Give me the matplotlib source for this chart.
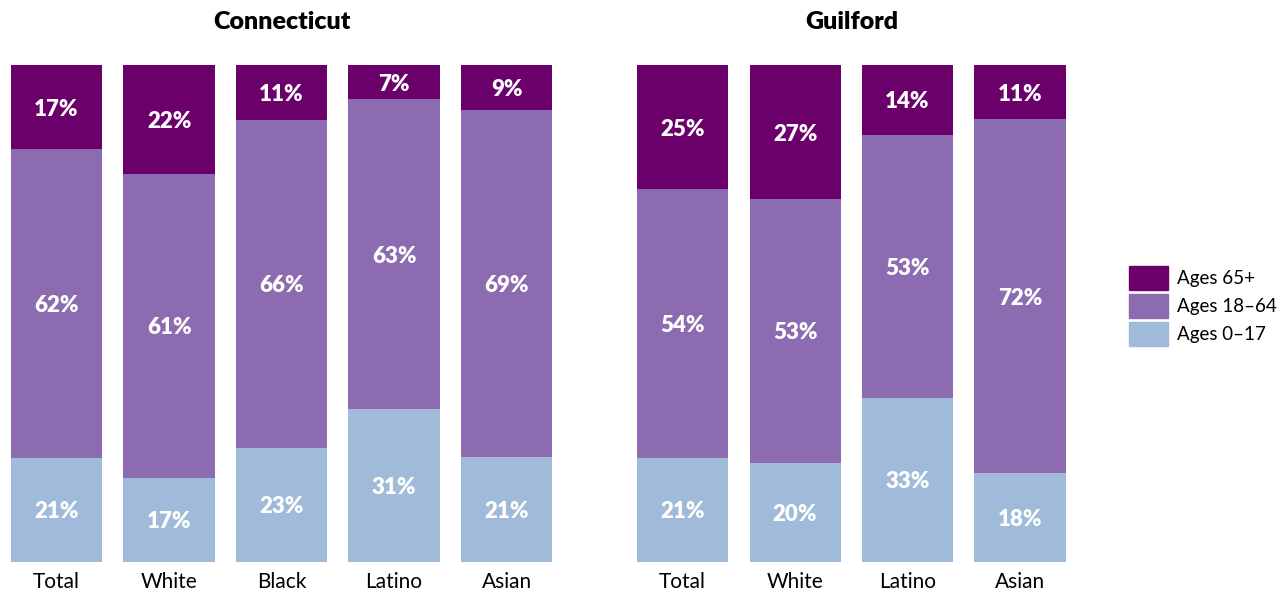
import matplotlib
matplotlib.use("Agg")
import matplotlib.pyplot as plt
from matplotlib.patches import Patch
import numpy as np

plt.rcParams['font.family'] = ['Lato', 'DejaVu Sans']

# data (percent, as labelled)
ct_groups = ['Total', 'White', 'Black', 'Latino', 'Asian']
ct_0_17 = [21, 17, 23, 31, 21]
ct_18_64 = [62, 61, 66, 63, 69]
ct_65 = [17, 22, 11, 7, 9]

gf_groups = ['Total', 'White', 'Latino', 'Asian']
gf_0_17 = [21, 20, 33, 18]
gf_18_64 = [54, 53, 53, 72]
gf_65 = [25, 27, 14, 11]

series_names = ['Ages 65+', 'Ages 18\u201364', 'Ages 0\u201317']
colors = ['#6b006b', '#8c6bb0', '#9fbbd9']

W, H = 1285, 594
fig = plt.figure(figsize=(W / 100, H / 100), dpi=100)

bar_w = 0.81
step = 112.5  # pixels per category


def panel(left_px, groups, young, adult, old, title):
    n = len(groups)
    width_px = (n - 1 + bar_w) * step
    ax = fig.add_axes([left_px / W, 32 / H, width_px / W, 497 / H])
    x = np.arange(n)
    young = np.array(young, float)
    adult = np.array(adult, float)
    old = np.array(old, float)
    tot = young + adult + old
    segs = [young / tot * 100, adult / tot * 100, old / tot * 100]
    labels = [young, adult, old]
    cols = [colors[2], colors[1], colors[0]]
    bottom = np.zeros(n)
    for s, lab, c in zip(segs, labels, cols):
        ax.bar(x, s, bar_w, bottom=bottom, color=c, linewidth=0)
        for xi, b, h, v in zip(x, bottom, s, lab):
            ax.text(xi, b + h / 2 - 0.4, f'{int(v)}%', ha='center', va='center',
                    color='white', fontsize=16, fontweight='heavy')
        bottom += s
    ax.set_xlim(-bar_w / 2, n - 1 + bar_w / 2)
    ax.set_ylim(0, 100)
    ax.set_xticks(x)
    ax.set_xticklabels(groups, fontsize=15)
    ax.tick_params(axis='x', length=0, pad=7)
    ax.set_yticks([])
    for sp in ax.spines.values():
        sp.set_visible(False)
    ax.set_title(title, fontsize=18, fontweight='heavy', pad=26)
    return ax


panel(11, ct_groups, ct_0_17, ct_18_64, ct_65, 'Connecticut')
panel(637, gf_groups, gf_0_17, gf_18_64, gf_65, 'Guilford')

handles = [Patch(color=c, label=l) for c, l in zip(colors, series_names)]
fig.legend(handles=handles, loc='center left',
           bbox_to_anchor=(1129 / W, (H - 306) / H),
           frameon=False, fontsize=13.5, handlelength=2.1, handleheight=1.6,
           handletextpad=0.45, labelspacing=0.2, borderaxespad=0,
           borderpad=0)

fig.savefig('out.png', dpi=100)
